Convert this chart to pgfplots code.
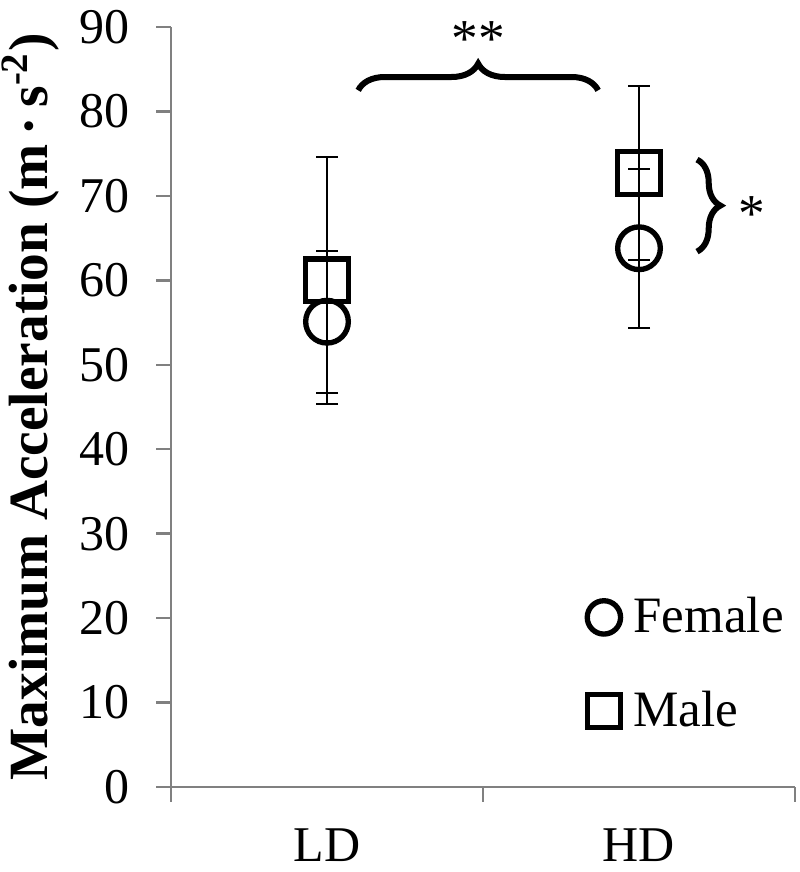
\documentclass[border=0pt]{standalone}
\usepackage{pgfplots}
\pgfplotsset{compat=1.18}
\usepackage{pgfplotstable}
\usepackage{fontspec}
\setmainfont{Liberation Serif}
\usetikzlibrary{decorations.pathreplacing}
\pgfplotstableread{
x y e
0.5 55.1 8.4
1.5 63.8 9.4
}\female
\pgfplotstableread{
x y e
0.5 60.0 14.6
1.5 72.7 10.3
}\male
\begin{document}
\begin{tikzpicture}
\useasboundingbox (-51.3pt,-25.5pt) rectangle (188.7pt,236.1pt);
\begin{axis}[
  at={(0pt,0pt)}, anchor=south west,
  scale only axis, width=187.2pt, height=228pt,
  xmin=0, xmax=2, ymin=0, ymax=90,
  axis x line=bottom, axis y line=left,
  axis line style={-, draw=gray, line width=0.7pt},
  xtick={0,1,2}, xticklabels={,,},
  extra x ticks={0.5,1.5}, extra x tick labels={LD,HD},
  extra x tick style={major tick length=0pt, tick label style={yshift=-9pt}},
  ytick={0,10,...,90},
  yticklabel style={xshift=-4.5pt},
  tick align=outside, major tick length=4.5pt,
  tick style={gray, line width=0.7pt},
  tick label style={font=\fontsize{15}{18}\selectfont},
  /pgf/number format/assume math mode=true,
  ylabel={Maximum Acceleration (m\,·\,s\textsuperscript{-2})},
  ylabel style={font=\fontsize{16.6}{19}\selectfont\bfseries, at={(axis description cs:-0.225,0.5)}, anchor=center},
  clip=false,
  legend style={at={(rel axis cs:0.666,0.068)}, anchor=south west, draw=none, fill=none,
    font=\fontsize{15.3}{18}\selectfont, row sep=14pt, inner sep=0pt, nodes={inner sep=1pt}},
  legend cell align=left,
  legend image code/.code={\draw[mark size=5pt,#1] plot coordinates {(0.31cm,0cm)}; \path (16.5pt,0pt);},
]
\addplot[only marks, black, mark=o, mark size=6.4pt, mark options={line width=1.6pt, solid},
  error bars/.cd, y dir=both, y explicit,
  error bar style={line width=0.6pt, black},
  error mark options={rotate=90, mark size=3.3pt, line width=0.6pt, black}]
  table[x=x, y=y, y error=e] {\female};
\addlegendentry{Female}
\addplot[only marks, black, mark=square, mark size=6.4pt, mark options={line width=1.6pt, solid},
  error bars/.cd, y dir=both, y explicit,
  error bar style={line width=0.6pt, black},
  error mark options={rotate=90, mark size=3.3pt, line width=0.6pt, black}]
  table[x=x, y=y, y error=e] {\male};
\addlegendentry{Male}
\draw[decorate, decoration={brace, amplitude=8pt}, line width=1.8pt] (axis cs:0.600,82.5) -- (axis cs:1.369,82.5);
\node[font=\fontsize{16}{18}\selectfont] at (axis cs:0.984,88.6) {**};
\draw[decorate, decoration={brace, amplitude=7pt}, line width=1.8pt] (axis cs:1.686,74.3) -- (axis cs:1.686,63.4);
\node[font=\fontsize{16}{18}\selectfont] at (axis cs:1.862,67.9) {*};
\end{axis}
\end{tikzpicture}
\end{document}
